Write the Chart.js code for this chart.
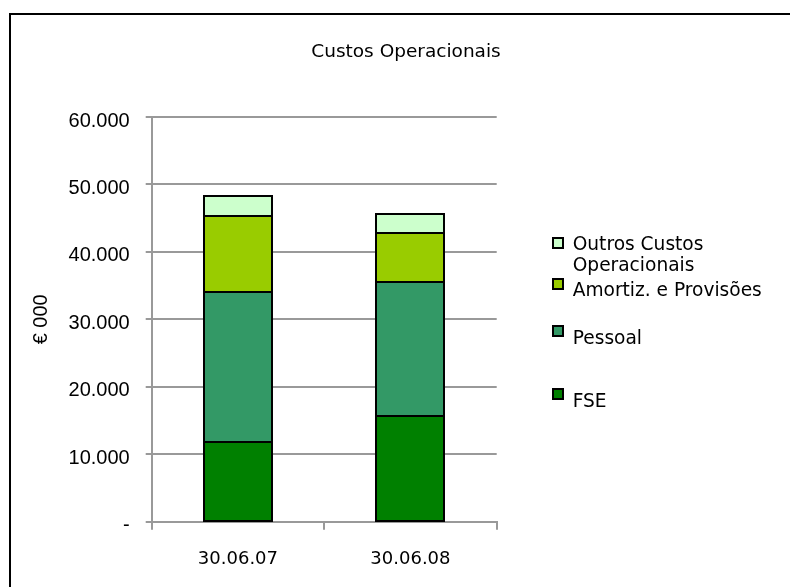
<!DOCTYPE html>
<html><head><meta charset="utf-8">
<script src="https://cdn.jsdelivr.net/npm/chart.js@4"></script>
<style>html,body{margin:0;padding:0;background:#fff;overflow:hidden}#wrap{position:relative;width:790px;height:587px}</style>
</head><body><div id="wrap"><canvas id="c" width="790" height="587"></canvas></div>
<script>
const chartTitle = 'Custos Operacionais';
const yAxisTitle = '€ 000';
const categories = ['30.06.07', '30.06.08'];
const seriesNames = ['FSE', 'Pessoal', 'Amortiz. e Provisões', 'Outros Custos Operacionais'];
const fse = [11860, 15720];
const pessoal = [22240, 19860];
const amortiz = [11270, 7180];
const outros = [2960, 2900];
const yTickValues = [0, 10000, 20000, 30000, 40000, 50000, 60000];
const yTickLabels = ['-', '10.000', '20.000', '30.000', '40.000', '50.000', '60.000'];
const seriesColors = ['#008000', '#339966', '#99CC00', '#CCFFCC'];

const seriesValues = [fse, pessoal, amortiz, outros];
const TAHOMA = "'DejaVu Sans', sans-serif";
const ARIAL = "'Liberation Sans', Arial, sans-serif";

const barOutlinePlugin = {
  id: 'barOutline',
  afterDatasetsDraw(chart) {
    const ctx = chart.ctx;
    ctx.save();
    ctx.strokeStyle = '#000';
    ctx.lineWidth = 2;
    chart.data.datasets.forEach((d, di) => {
      const meta = chart.getDatasetMeta(di);
      meta.data.forEach(el => {
        const p = el.getProps(['x', 'y', 'base', 'width'], true);
        const l = Math.round(p.x - p.width / 2), r = Math.round(p.x + p.width / 2);
        const t = Math.round(p.y), b = Math.round(p.base);
        ctx.strokeRect(l, t, r - l, b - t);
      });
    });
    ctx.restore();
  }
};

const decorPlugin = {
  id: 'decor',
  afterDraw(chart) {
    const ctx = chart.ctx;
    ctx.save();
    ctx.strokeStyle = '#000';
    ctx.lineWidth = 2;
    ctx.strokeRect(10, 14, 900, 700);
    ctx.fillStyle = '#000';
    ctx.font = '18.5px ' + TAHOMA;
    ctx.textAlign = 'center';
    ctx.textBaseline = 'alphabetic';
    ctx.fillText(chartTitle, 406, 56.5);
    const squareTops = [236.7, 278, 325, 388];
    const baselines = [250, 296, 344, 406.6];
    const lineGap = 21.4;
    ctx.font = '18.6px ' + TAHOMA;
    ctx.textAlign = 'left';
    const ds = chart.data.datasets.slice().reverse();
    ds.forEach((d, i) => {
      ctx.fillStyle = d.backgroundColor;
      ctx.fillRect(553, Math.round(squareTops[i]) + 1, 10, 10);
      ctx.strokeStyle = '#000';
      ctx.lineWidth = 2;
      ctx.strokeRect(553, Math.round(squareTops[i]) + 1, 10, 10);
      const words = d.label.split(' ');
      const lines = [];
      let cur = '';
      words.forEach(w => {
        const t = cur ? cur + ' ' + w : w;
        if (ctx.measureText(t).width > 205 && cur) { lines.push(cur); cur = w; } else cur = t;
      });
      lines.push(cur);
      ctx.fillStyle = '#000';
      lines.forEach((ln, k) => ctx.fillText(ln, 572.7, baselines[i] + k * lineGap));
    });
    ctx.restore();
  }
};

new Chart(document.getElementById('c'), {
  type: 'bar',
  data: {
    labels: categories,
    datasets: seriesNames.map((n, i) => ({
      label: n,
      data: seriesValues[i],
      backgroundColor: seriesColors[i],
      borderWidth: 0,
      barPercentage: 0.394,
      categoryPercentage: 1
    }))
  },
  options: {
    responsive: false,
    animation: false,
    devicePixelRatio: 1,
    layout: { padding: { left: 29, right: 293.3, top: 117, bottom: 20.3 } },
    plugins: { legend: { display: false }, title: { display: false }, tooltip: { enabled: false } },
    scales: {
      x: {
        stacked: true,
        grid: { display: true, drawOnChartArea: false, drawTicks: true, tickLength: 8, color: '#999', lineWidth: 2, offset: true },
        border: { display: true, color: '#999', width: 2 },
        ticks: { color: '#000', font: { family: TAHOMA, size: 18 }, padding: 19, maxRotation: 0 },
        afterFit(s) { s.height = 45; }
      },
      y: {
        stacked: true,
        min: 0, max: 60000,
        afterBuildTicks(s) { s.ticks = yTickValues.map(v => ({ value: v })); },
        grid: { color: '#999', lineWidth: 2, drawTicks: true, tickLength: 6 },
        border: { display: true, color: '#999', width: 2 },
        ticks: {
          color: '#000', font: { family: ARIAL, size: 20 }, padding: 16, labelOffset: 4,
          callback(v) { const i = yTickValues.indexOf(v); return i >= 0 ? yTickLabels[i] : ''; }
        },
        title: { display: true, text: yAxisTitle, color: '#000', font: { family: ARIAL, size: 20 }, padding: { top: 0, bottom: 0 } },
        afterFit(s) { s.width = 122.7; }
      }
    }
  },
  plugins: [barOutlinePlugin, decorPlugin]
});
</script></body></html>
